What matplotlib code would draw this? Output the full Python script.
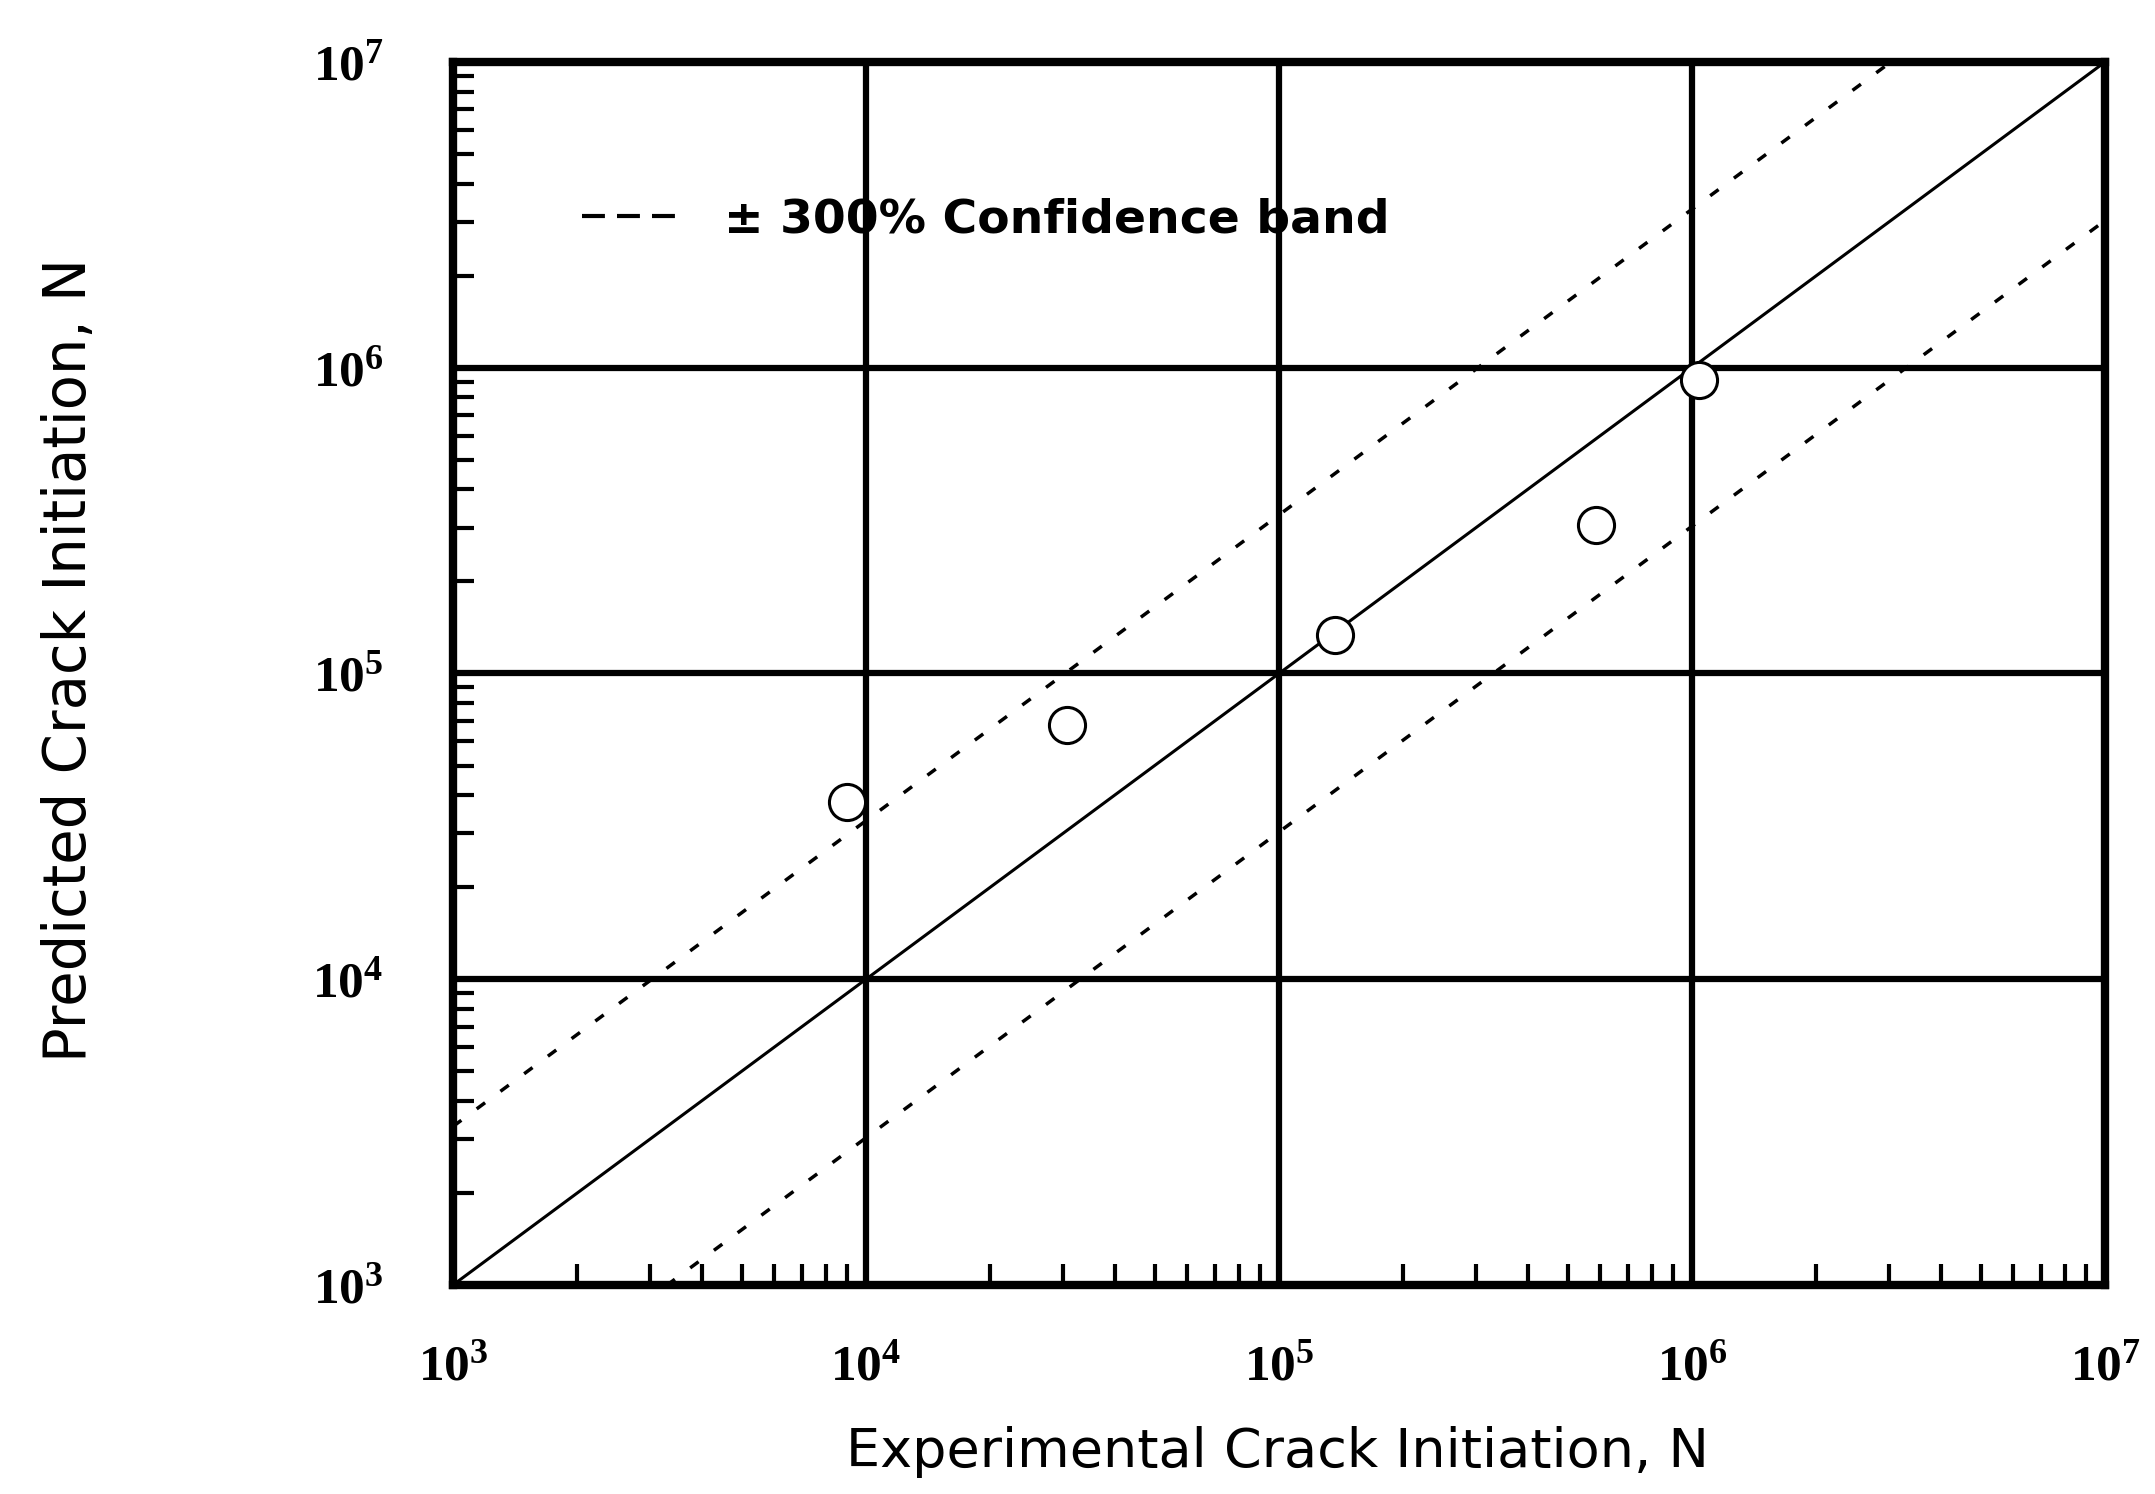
import matplotlib
matplotlib.use('Agg')
import matplotlib.pyplot as plt
from matplotlib.lines import Line2D
from matplotlib.ticker import LogLocator, FixedLocator, NullFormatter

# data
exp_cycles = [9.0e3, 3.07e4, 1.37e5, 5.87e5, 1.04e6]
pred_cycles = [3.8e4, 6.8e4, 1.34e5, 3.06e5, 9.1e5]

axis_range = [1e3, 1e7]
band_factor = 3.3
decades = [1e3, 1e4, 1e5, 1e6, 1e7]
decade_labels = ['3', '4', '5', '6', '7']

plt.rcParams['mathtext.fontset'] = 'custom'
plt.rcParams['mathtext.rm'] = 'Liberation Serif:bold'

fig = plt.figure(figsize=(21.55, 14.94), dpi=100)
ax = fig.add_axes([0.2102, 0.1399, 0.7666, 0.8186])
ax.set_xscale('log')
ax.set_yscale('log')
ax.set_xlim(axis_range)
ax.set_ylim(axis_range)

# grid at every decade
for d in decades[1:-1]:
    ax.axvline(d, color='black', lw=4.5, zorder=1)
    ax.axhline(d, color='black', lw=4.5, zorder=1)

# perfect-agreement line and band
ax.plot(axis_range, axis_range, color='black', lw=2.2, zorder=2)
ax.plot(axis_range, [v * band_factor for v in axis_range], color='black',
        lw=2.5, linestyle=(0, (3, 5.5)), zorder=2)
ax.plot(axis_range, [v / band_factor for v in axis_range], color='black',
        lw=2.5, linestyle=(0, (3, 5.5)), zorder=2)

ax.plot(exp_cycles, pred_cycles, linestyle='none', marker='o', markersize=26,
        markerfacecolor='white', markeredgecolor='black', markeredgewidth=2.2, zorder=3)

for side in ax.spines.values():
    side.set_linewidth(6)

ax.xaxis.set_major_locator(FixedLocator(decades))
ax.yaxis.set_major_locator(FixedLocator(decades))
ax.xaxis.set_minor_locator(LogLocator(base=10, subs=range(2, 10)))
ax.yaxis.set_minor_locator(LogLocator(base=10, subs=range(2, 10)))
ax.xaxis.set_minor_formatter(NullFormatter())
ax.yaxis.set_minor_formatter(NullFormatter())
tick_text = [r'$\mathregular{10^{%s}}$' % e for e in decade_labels]
ax.set_xticklabels(tick_text, fontsize=37, family='Liberation Serif', fontweight='bold')
ax.set_yticklabels(tick_text, fontsize=37, family='Liberation Serif', fontweight='bold')
ax.tick_params(which='major', direction='in', length=0, width=0)
ax.tick_params(axis='x', which='major', pad=43)
ax.tick_params(axis='y', which='major', pad=50)
ax.tick_params(which='minor', direction='in', length=15, width=3)

ax.set_xlabel('Experimental Crack Initiation, N', fontsize=39,
              family='DejaVu Sans')
ax.set_ylabel('Predicted Crack Initiation, N', fontsize=41.5,
              family='DejaVu Sans')
ax.xaxis.set_label_coords(0.499, -0.115)
ax.yaxis.set_label_coords(-0.215, 0.511)

band_proxy = Line2D([], [], color='black', lw=3, linestyle=(0, (5.5, 2.9)))
ax.legend([band_proxy], ['± 300% Confidence band'], loc='center left',
          bbox_to_anchor=(0.078, 0.871), frameon=False, handlelength=2.1,
          handletextpad=0.9, borderpad=0, borderaxespad=0,
          prop={'family': 'DejaVu Sans', 'size': 34, 'weight': 'bold'})

fig.savefig('out.png', dpi=100, facecolor='white')
